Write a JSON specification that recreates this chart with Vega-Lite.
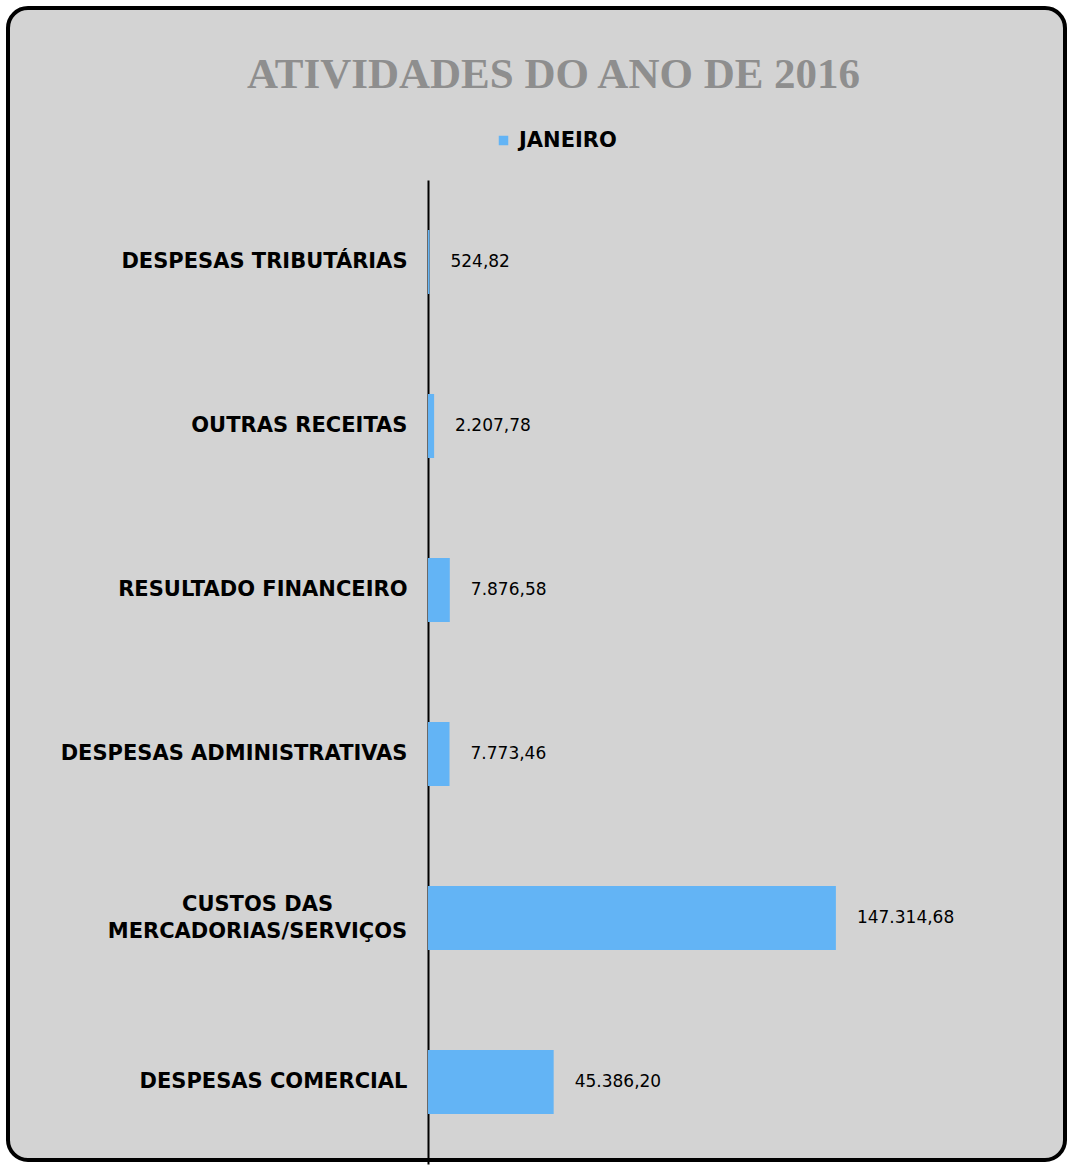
{
  "$schema": "https://vega.github.io/schema/vega-lite/v6.json",
  "width": 1057,
  "height": 1152,
  "padding": 8,
  "autosize": {"type": "none"},
  "background": "#ffffff",
  "title": {
    "text": "ATIVIDADES DO ANO DE 2016",
    "anchor": "middle",
    "frame": "group",
    "orient": "top",
    "offset": -89,
    "dx": 17,
    "font": "Liberation Serif",
    "fontSize": 43,
    "fontWeight": "bold",
    "color": "#8e8e8e"
  },
  "config": {
    "view": {"fill": "#d3d3d3", "stroke": "#000000", "strokeWidth": 4, "cornerRadius": 20}
  },
  "data": {
    "values": [
      {"categoria": "DESPESAS TRIBUTÁRIAS", "valor": 524.82, "rotulo": "524,82", "serie": "JANEIRO"},
      {"categoria": "OUTRAS RECEITAS", "valor": 2207.78, "rotulo": "2.207,78", "serie": "JANEIRO"},
      {"categoria": "RESULTADO FINANCEIRO", "valor": 7876.58, "rotulo": "7.876,58", "serie": "JANEIRO"},
      {"categoria": "DESPESAS ADMINISTRATIVAS", "valor": 7773.46, "rotulo": "7.773,46", "serie": "JANEIRO"},
      {"categoria": "CUSTOS DAS MERCADORIAS/SERVIÇOS", "valor": 147314.68, "rotulo": "147.314,68", "serie": "JANEIRO"},
      {"categoria": "DESPESAS COMERCIAL", "valor": 45386.20, "rotulo": "45.386,20", "serie": "JANEIRO"}
    ]
  },
  "encoding": {
    "y": {
      "field": "categoria",
      "type": "nominal",
      "sort": null,
      "scale": {"range": [172, 1156], "paddingInner": 0.61, "paddingOuter": 0.305},
      "axis": {
        "title": null,
        "orient": "left",
        "offset": -420,
        "domainColor": "#000000",
        "domainWidth": 2,
        "ticks": false,
        "labelFont": "DejaVu Sans",
        "labelFontSize": 21,
        "labelFontWeight": "bold",
        "labelColor": "#000000",
        "labelLimit": 500,
        "labelPadding": {"condition": {"test": "datum.value == 'CUSTOS DAS MERCADORIAS/SERVIÇOS'", "value": 171}, "value": 21},
        "labelAlign": {"condition": {"test": "datum.value == 'CUSTOS DAS MERCADORIAS/SERVIÇOS'", "value": "center"}, "value": "right"},
        "labelOffset": {"condition": {"test": "datum.value == 'CUSTOS DAS MERCADORIAS/SERVIÇOS'", "value": -13}, "value": 0},
        "labelExpr": "datum.value == 'CUSTOS DAS MERCADORIAS/SERVIÇOS' ? ['CUSTOS DAS', 'MERCADORIAS/SERVIÇOS'] : datum.value",
        "labelLineHeight": 27
      }
    },
    "x": {
      "field": "valor",
      "type": "quantitative",
      "scale": {"domain": [0, 218500], "range": [420, 1025]},
      "axis": null
    }
  },
  "layer": [
    {
      "mark": {"type": "bar"},
      "encoding": {
        "color": {
          "field": "serie",
          "type": "nominal",
          "scale": {"range": ["#63b4f5"]},
          "legend": {
            "title": null,
            "orient": "none",
            "legendX": 485,
            "legendY": 122,
            "symbolType": "square",
            "symbolSize": 90,
            "symbolStrokeWidth": 0,
            "labelFont": "DejaVu Sans",
            "labelFontSize": 21,
            "labelFontWeight": "bold",
            "labelColor": "#000000",
            "labelOffset": 5
          }
        }
      }
    },
    {
      "mark": {"type": "text", "align": "left", "baseline": "middle", "dx": 21, "font": "DejaVu Sans", "fontSize": 17, "color": "#000000"},
      "encoding": {"text": {"field": "rotulo"}}
    }
  ]
}
